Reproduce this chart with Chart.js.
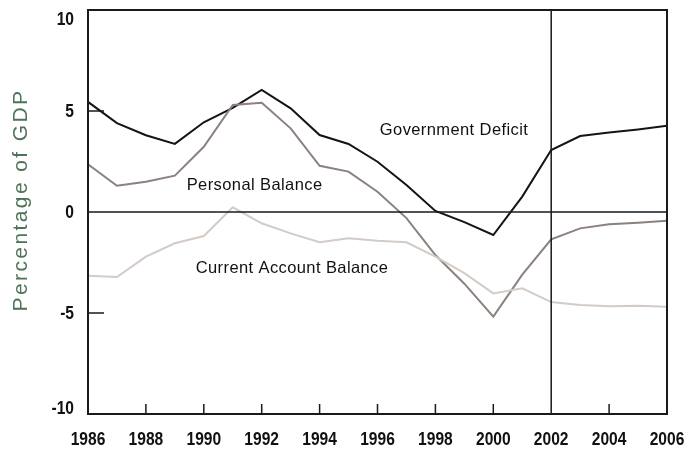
<!DOCTYPE html>
<html>
<head>
<meta charset="utf-8">
<script src="https://cdn.jsdelivr.net/npm/chart.js@4.4.1/dist/chart.umd.min.js"></script>
<style>
  html, body { margin: 0; padding: 0; background: #fff; }
  #wrap { width: 696px; height: 450px; }
</style>
</head>
<body>
<div id="wrap"><canvas id="balanceChart"></canvas></div>
<script>
const years = [1986, 1987, 1988, 1989, 1990, 1991, 1992, 1993, 1994, 1995, 1996,
  1997, 1998, 1999, 2000, 2001, 2002, 2003, 2004, 2005, 2006];

const governmentDeficit = [5.45, 4.4, 3.8, 3.37, 4.44, 5.15, 6.04, 5.13, 3.81, 3.37, 2.49,
  1.34, 0.05, -0.5, -1.14, 0.76, 3.07, 3.76, 3.94, 4.09, 4.27];

const personalBalance = [2.36, 1.3, 1.5, 1.8, 3.23, 5.3, 5.41, 4.14, 2.29, 2.0, 1.0,
  -0.3, -2.13, -3.55, -5.18, -3.1, -1.35, -0.81, -0.61, -0.53, -0.43];

const currentAccount = [-3.15, -3.22, -2.21, -1.55, -1.19, 0.23, -0.56, -1.06, -1.5, -1.3, -1.42,
  -1.5, -2.21, -3.03, -4.03, -3.78, -4.46, -4.6, -4.67, -4.64, -4.69];

const xTicks = [1986, 1988, 1990, 1992, 1994, 1996, 1998, 2000, 2002, 2004, 2006];
const yTicks = [-10, -5, 0, 5, 10];
const yTitle = "Percentage of GDP";

// text labels placed next to the lines
const seriesLabels = [
  { text: "Government Deficit", x: 1996.08, y: 4.06 },
  { text: "Personal Balance", x: 1989.41, y: 1.29 },
  { text: "Current Account Balance", x: 1989.72, y: -2.77 }
];

const toPoints = (vals) => vals.map((v, i) => ({ x: years[i], y: v }));

// squeezed bold text, stands in for the condensed face of the original
function narrowText(ctx, text, x, y, align) {
  const sx = 0.82;
  ctx.save();
  ctx.translate(x, y);
  ctx.scale(sx, 1);
  ctx.textAlign = align;
  ctx.fillText(text, 0, 0);
  ctx.restore();
}

// frame, zero line, 2002 line, inward tick marks, tick labels and line labels
const framePlugin = {
  id: "frame",
  afterDatasetsDraw(chart) {
    const { ctx, chartArea: a, scales } = chart;
    const xs = scales.x, ys = scales.y;
    ctx.save();
    ctx.strokeStyle = "#1a1a1a";
    ctx.lineWidth = 1.5;

    const y0 = ys.getPixelForValue(0);
    ctx.beginPath();
    ctx.moveTo(a.left, y0); ctx.lineTo(a.right, y0);
    const x02 = xs.getPixelForValue(2002);
    ctx.moveTo(x02, a.top); ctx.lineTo(x02, a.bottom);
    xTicks.forEach((t) => {
      if (t === 1986 || t === 2006 || t === 2002) return;
      const px = xs.getPixelForValue(t);
      ctx.moveTo(px, a.bottom); ctx.lineTo(px, a.bottom - 10);
    });
    [5, -5].forEach((t) => {
      const py = ys.getPixelForValue(t);
      ctx.moveTo(a.left, py); ctx.lineTo(a.left + 16, py);
    });
    ctx.stroke();

    ctx.lineWidth = 2;
    ctx.strokeRect(a.left, a.top, a.right - a.left, a.bottom - a.top);

    // tick labels
    ctx.fillStyle = "#111";
    ctx.font = "bold 19px 'Liberation Sans', Arial, sans-serif";
    ctx.textBaseline = "middle";
    xTicks.forEach((t) => {
      narrowText(ctx, String(t), xs.getPixelForValue(t), a.bottom + 26, "center");
    });
    yTicks.forEach((t) => {
      let py = ys.getPixelForValue(t);
      py = Math.min(Math.max(py, a.top + 9), a.bottom - 6);
      narrowText(ctx, String(t), a.left - 14, py + 1, "right");
    });

    // axis title
    ctx.save();
    ctx.fillStyle = "#4f7358";
    ctx.font = "21px 'Liberation Sans', Arial, sans-serif";
    ctx.letterSpacing = "2.4px";
    ctx.textAlign = "center";
    ctx.translate(21, (a.top + a.bottom) / 2 - 12);
    ctx.rotate(-Math.PI / 2);
    ctx.fillText(yTitle, 0, 0);
    ctx.restore();

    // line labels
    ctx.fillStyle = "#111";
    ctx.font = "16.5px 'Liberation Sans', Arial, sans-serif";
    ctx.letterSpacing = "0.4px";
    ctx.textAlign = "left";
    seriesLabels.forEach((l) => {
      ctx.fillText(l.text, xs.getPixelForValue(l.x), ys.getPixelForValue(l.y));
    });
    ctx.restore();
  }
};

new Chart(document.getElementById("balanceChart"), {
  type: "line",
  data: {
    datasets: [
      { label: "Current Account Balance", data: toPoints(currentAccount), borderColor: "#d3cbc6", borderWidth: 2 },
      { label: "Personal Balance", data: toPoints(personalBalance), borderColor: "#8b817d", borderWidth: 2 },
      { label: "Government Deficit", data: toPoints(governmentDeficit), borderColor: "#141414", borderWidth: 2 }
    ]
  },
  options: {
    responsive: true,
    maintainAspectRatio: false,
    animation: false,
    layout: { padding: { top: 10, right: 29, left: 0, bottom: 0 } },
    elements: { point: { radius: 0 }, line: { tension: 0 } },
    plugins: { legend: { display: false }, tooltip: { enabled: false } },
    scales: {
      x: {
        type: "linear",
        min: 1986,
        max: 2006,
        afterFit: (s) => { s.height = 36; s.paddingLeft = 0; s.paddingRight = 0; },
        afterBuildTicks: (s) => { s.ticks = xTicks.map((v) => ({ value: v })); },
        grid: { display: false, drawTicks: false },
        border: { display: false },
        ticks: { display: false }
      },
      y: {
        min: -10,
        max: 10,
        afterFit: (s) => { s.width = 88; s.paddingTop = 0; s.paddingBottom = 0; },
        afterBuildTicks: (s) => { s.ticks = yTicks.map((v) => ({ value: v })); },
        grid: { display: false, drawTicks: false },
        border: { display: false },
        ticks: { display: false }
      }
    }
  },
  plugins: [framePlugin]
});
</script>
</body>
</html>
